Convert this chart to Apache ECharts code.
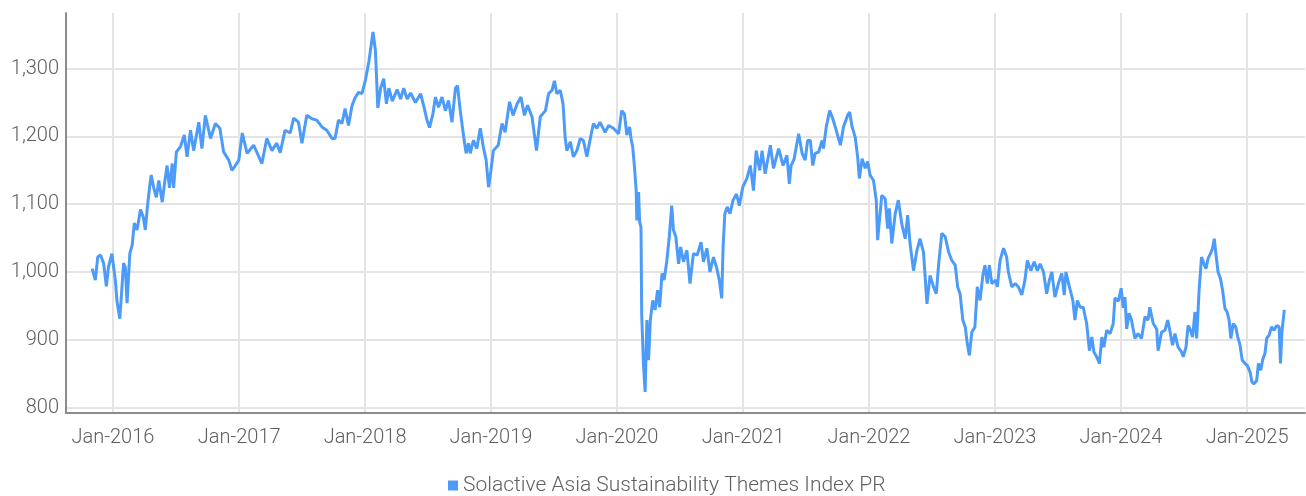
<!DOCTYPE html>
<html>
<head>
<meta charset="utf-8">
<script src="https://cdn.jsdelivr.net/npm/echarts@6/dist/echarts.min.js"></script>
<style>
  html, body { margin: 0; padding: 0; background: #fff; }
  #chart { width: 1306px; height: 496px; }
</style>
</head>
<body>
<div id="chart"></div>
<script>
// index levels, grouped by year
const y2015 = [
  ['2015-11-02', 1005], ['2015-11-11', 988], ['2015-11-18', 1022], ['2015-11-26', 1025],
  ['2015-12-05', 1013], ['2015-12-13', 979], ['2015-12-19', 1007], ['2015-12-29', 1027]
];
const y2016 = [
  ['2016-01-08', 988], ['2016-01-13', 956], ['2016-01-21', 931], ['2016-01-26', 968],
  ['2016-02-01', 1013], ['2016-02-06', 1007], ['2016-02-11', 954], ['2016-02-19', 1027],
  ['2016-02-26', 1040], ['2016-03-03', 1072], ['2016-03-11', 1062], ['2016-03-21', 1092],
  ['2016-03-29', 1081], ['2016-04-04', 1062], ['2016-04-09', 1091], ['2016-04-17', 1128],
  ['2016-04-21', 1143], ['2016-04-28', 1125], ['2016-05-06', 1110], ['2016-05-13', 1135],
  ['2016-05-23', 1103], ['2016-05-29', 1128], ['2016-06-06', 1157], ['2016-06-13', 1124],
  ['2016-06-21', 1160], ['2016-06-25', 1124], ['2016-07-03', 1177], ['2016-07-15', 1185],
  ['2016-07-26', 1202], ['2016-08-03', 1170], ['2016-08-13', 1209], ['2016-08-22', 1179],
  ['2016-09-06', 1221], ['2016-09-15', 1182], ['2016-09-25', 1231], ['2016-10-10', 1197],
  ['2016-10-24', 1219], ['2016-11-06', 1212], ['2016-11-17', 1177], ['2016-12-02', 1165],
  ['2016-12-11', 1150], ['2016-12-21', 1157], ['2016-12-31', 1165]
];
const y2017 = [
  ['2017-01-10', 1205], ['2017-01-24', 1175], ['2017-02-12', 1187], ['2017-03-08', 1160],
  ['2017-03-22', 1197], ['2017-04-06', 1179], ['2017-04-20', 1190], ['2017-04-30', 1176],
  ['2017-05-14', 1209], ['2017-05-29', 1205], ['2017-06-08', 1227], ['2017-06-22', 1221],
  ['2017-07-02', 1190], ['2017-07-16', 1231], ['2017-07-31', 1226], ['2017-08-14', 1224],
  ['2017-08-29', 1214], ['2017-09-12', 1209], ['2017-09-27', 1197], ['2017-10-06', 1197],
  ['2017-10-16', 1224], ['2017-10-26', 1219], ['2017-11-04', 1241], ['2017-11-14', 1216],
  ['2017-11-24', 1245], ['2017-12-03', 1257], ['2017-12-13', 1265], ['2017-12-23', 1263]
];
const y2018 = [
  ['2018-01-02', 1283], ['2018-01-12', 1310], ['2018-01-24', 1354], ['2018-01-31', 1327],
  ['2018-02-07', 1242], ['2018-02-15', 1271], ['2018-02-24', 1285], ['2018-03-04', 1248],
  ['2018-03-11', 1271], ['2018-03-21', 1252], ['2018-04-04', 1269], ['2018-04-14', 1255],
  ['2018-04-23', 1271], ['2018-05-03', 1255], ['2018-05-13', 1264], ['2018-05-27', 1250],
  ['2018-06-11', 1263], ['2018-06-20', 1245], ['2018-06-30', 1223], ['2018-07-07', 1213],
  ['2018-07-17', 1234], ['2018-07-24', 1258], ['2018-08-02', 1243], ['2018-08-12', 1258],
  ['2018-08-22', 1238], ['2018-08-31', 1253], ['2018-09-10', 1221], ['2018-09-20', 1271],
  ['2018-09-26', 1275], ['2018-10-04', 1238], ['2018-10-14', 1199], ['2018-10-21', 1175],
  ['2018-10-28', 1190], ['2018-11-02', 1175], ['2018-11-11', 1194], ['2018-11-21', 1182],
  ['2018-12-01', 1212], ['2018-12-10', 1184], ['2018-12-18', 1165], ['2018-12-25', 1125]
];
const y2019 = [
  ['2019-01-01', 1150], ['2019-01-08', 1179], ['2019-01-22', 1187], ['2019-02-02', 1219],
  ['2019-02-11', 1206], ['2019-02-24', 1251], ['2019-03-06', 1231], ['2019-03-18', 1248],
  ['2019-03-29', 1258], ['2019-04-08', 1231], ['2019-04-17', 1246], ['2019-04-30', 1229],
  ['2019-05-13', 1179], ['2019-05-24', 1229], ['2019-06-08', 1238], ['2019-06-17', 1263],
  ['2019-06-27', 1268], ['2019-07-04', 1282], ['2019-07-11', 1263], ['2019-07-21', 1268],
  ['2019-07-29', 1248], ['2019-08-04', 1199], ['2019-08-09', 1179], ['2019-08-19', 1192],
  ['2019-08-28', 1170], ['2019-09-07', 1179], ['2019-09-17', 1197], ['2019-09-26', 1194],
  ['2019-10-06', 1170], ['2019-10-15', 1194], ['2019-10-25', 1219], ['2019-11-04', 1212],
  ['2019-11-13', 1221], ['2019-11-28', 1206], ['2019-12-08', 1216], ['2019-12-22', 1212]
];
const y2020 = [
  ['2020-01-06', 1204], ['2020-01-15', 1238], ['2020-01-23', 1233], ['2020-01-30', 1202],
  ['2020-02-07', 1214], ['2020-02-11', 1197], ['2020-02-16', 1184], ['2020-02-21', 1155],
  ['2020-02-26', 1120], ['2020-02-28', 1076], ['2020-03-04', 1118], ['2020-03-07', 1074],
  ['2020-03-11', 1066], ['2020-03-13', 938], ['2020-03-18', 865], ['2020-03-23', 823],
  ['2020-03-28', 929], ['2020-04-02', 870], ['2020-04-07', 929], ['2020-04-14', 958],
  ['2020-04-21', 944], ['2020-04-28', 973], ['2020-05-04', 948], ['2020-05-11', 998],
  ['2020-05-17', 988], ['2020-05-25', 1017], ['2020-06-01', 1052], ['2020-06-08', 1098],
  ['2020-06-13', 1062], ['2020-06-20', 1052], ['2020-06-28', 1012], ['2020-07-04', 1037],
  ['2020-07-12', 1015], ['2020-07-22', 1032], ['2020-07-31', 983], ['2020-08-10', 1027],
  ['2020-08-21', 1025], ['2020-09-01', 1044], ['2020-09-08', 1015], ['2020-09-18', 1035],
  ['2020-09-27', 1000], ['2020-10-07', 1022], ['2020-10-16', 1007], ['2020-10-24', 988],
  ['2020-10-31', 961], ['2020-11-04', 1037], ['2020-11-09', 1086], ['2020-11-16', 1096],
  ['2020-11-24', 1086], ['2020-12-03', 1106], ['2020-12-13', 1115], ['2020-12-21', 1098],
  ['2020-12-31', 1125]
];
const y2021 = [
  ['2021-01-12', 1138], ['2021-01-22', 1157], ['2021-01-31', 1120], ['2021-02-08', 1179],
  ['2021-02-18', 1150], ['2021-02-25', 1179], ['2021-03-06', 1145], ['2021-03-21', 1187],
  ['2021-03-30', 1153], ['2021-04-14', 1182], ['2021-04-27', 1157], ['2021-05-08', 1172],
  ['2021-05-15', 1130], ['2021-05-20', 1157], ['2021-05-29', 1167], ['2021-06-11', 1204],
  ['2021-06-21', 1175], ['2021-06-30', 1165], ['2021-07-07', 1194], ['2021-07-15', 1194],
  ['2021-07-22', 1157], ['2021-07-29', 1175], ['2021-08-08', 1177], ['2021-08-18', 1194],
  ['2021-08-22', 1182], ['2021-08-30', 1214], ['2021-09-09', 1238], ['2021-09-18', 1226],
  ['2021-09-28', 1209], ['2021-10-10', 1187], ['2021-10-19', 1214], ['2021-10-31', 1231],
  ['2021-11-06', 1236], ['2021-11-13', 1214], ['2021-11-22', 1199], ['2021-11-29', 1170],
  ['2021-12-04', 1138], ['2021-12-12', 1167], ['2021-12-21', 1153], ['2021-12-28', 1163]
];
const y2022 = [
  ['2022-01-04', 1143], ['2022-01-14', 1135], ['2022-01-22', 1106], ['2022-01-26', 1047],
  ['2022-02-07', 1113], ['2022-02-17', 1108], ['2022-02-24', 1064], ['2022-03-01', 1094],
  ['2022-03-08', 1042], ['2022-03-18', 1086], ['2022-03-27', 1106], ['2022-04-06', 1071],
  ['2022-04-16', 1049], ['2022-04-23', 1084], ['2022-04-30', 1042], ['2022-05-10', 1002],
  ['2022-05-20', 1032], ['2022-05-29', 1049], ['2022-06-08', 1029], ['2022-06-18', 953],
  ['2022-06-27', 995], ['2022-07-07', 978], ['2022-07-15', 968], ['2022-07-22', 1012],
  ['2022-07-31', 1057], ['2022-08-10', 1052], ['2022-08-20', 1029], ['2022-08-29', 1017],
  ['2022-09-08', 1010], ['2022-09-15', 978], ['2022-09-22', 968], ['2022-09-30', 929],
  ['2022-10-07', 919], ['2022-10-13', 894], ['2022-10-19', 877], ['2022-10-26', 911],
  ['2022-11-04', 919], ['2022-11-11', 978], ['2022-11-19', 958], ['2022-11-27', 995],
  ['2022-12-03', 1010], ['2022-12-10', 983], ['2022-12-16', 1010], ['2022-12-23', 983]
];
const y2023 = [
  ['2023-01-03', 988], ['2023-01-08', 978], ['2023-01-16', 1017], ['2023-01-26', 1035],
  ['2023-02-04', 1022], ['2023-02-09', 1000], ['2023-02-19', 978], ['2023-03-01', 983],
  ['2023-03-10', 978], ['2023-03-20', 966], ['2023-03-29', 988], ['2023-04-05', 1017],
  ['2023-04-15', 1002], ['2023-04-25', 1015], ['2023-05-04', 1002], ['2023-05-12', 1012],
  ['2023-05-22', 1000], ['2023-05-31', 968], ['2023-06-08', 988], ['2023-06-15', 1000],
  ['2023-06-24', 963], ['2023-07-04', 983], ['2023-07-14', 998], ['2023-07-21', 966],
  ['2023-07-26', 1000], ['2023-08-05', 978], ['2023-08-15', 958], ['2023-08-21', 929],
  ['2023-08-28', 958], ['2023-09-05', 948], ['2023-09-14', 948], ['2023-09-24', 924],
  ['2023-10-02', 884], ['2023-10-09', 904], ['2023-10-15', 882], ['2023-10-23', 875],
  ['2023-10-31', 865], ['2023-11-07', 904], ['2023-11-13', 889], ['2023-11-21', 914],
  ['2023-12-01', 909], ['2023-12-10', 924], ['2023-12-15', 962], ['2023-12-25', 957]
];
const y2024 = [
  ['2024-01-02', 976], ['2024-01-08', 947], ['2024-01-13', 963], ['2024-01-18', 916],
  ['2024-01-25', 939], ['2024-02-01', 929], ['2024-02-11', 902], ['2024-02-20', 909],
  ['2024-03-01', 902], ['2024-03-11', 934], ['2024-03-20', 929], ['2024-03-25', 948],
  ['2024-04-04', 924], ['2024-04-14', 916], ['2024-04-18', 884], ['2024-04-28', 911],
  ['2024-05-08', 914], ['2024-05-16', 929], ['2024-05-22', 914], ['2024-05-30', 892],
  ['2024-06-06', 909], ['2024-06-15', 889], ['2024-06-25', 882], ['2024-06-30', 875],
  ['2024-07-08', 889], ['2024-07-14', 921], ['2024-07-21', 914], ['2024-07-27', 904],
  ['2024-08-03', 941], ['2024-08-08', 902], ['2024-08-15', 973], ['2024-08-22', 1022],
  ['2024-08-29', 1012], ['2024-09-04', 1005], ['2024-09-10', 1020], ['2024-09-17', 1027],
  ['2024-09-23', 1035], ['2024-09-28', 1049], ['2024-10-03', 1025], ['2024-10-09', 1000],
  ['2024-10-16', 990], ['2024-10-22', 973], ['2024-10-29', 946], ['2024-11-04', 941],
  ['2024-11-10', 929], ['2024-11-15', 902], ['2024-11-22', 924], ['2024-11-29', 919],
  ['2024-12-05', 904], ['2024-12-11', 894], ['2024-12-18', 870], ['2024-12-26', 865]
];
const y2025 = [
  ['2025-01-02', 862], ['2025-01-10', 852], ['2025-01-15', 838], ['2025-01-21', 835],
  ['2025-01-29', 840], ['2025-02-03', 865], ['2025-02-10', 855], ['2025-02-15', 870],
  ['2025-02-22', 880], ['2025-02-27', 902], ['2025-03-06', 907], ['2025-03-13', 919],
  ['2025-03-20', 914], ['2025-03-28', 921], ['2025-04-04', 919], ['2025-04-08', 865],
  ['2025-04-12', 911], ['2025-04-19', 944]
];

const yTicks = [800, 900, 1000, 1100, 1200, 1300];
const xTickYears = [2016, 2017, 2018, 2019, 2020, 2021, 2022, 2023, 2024, 2025];
const seriesName = 'Solactive Asia Sustainability Themes Index PR';

// value axis over timestamps so custom ticks (one per January) work
const seriesData = [].concat(y2015, y2016, y2017, y2018, y2019, y2020, y2021, y2022, y2023, y2024, y2025)
  .map(d => [Date.parse(d[0]), d[1]]);
const xTicks = xTickYears.map(y => Date.parse(y + '-01-01'));
const lineColor = '#4d9bf8';
const textColor = '#606060';
const font = 'Roboto';

const chart = echarts.init(document.getElementById('chart'), null, { renderer: 'canvas' });
chart.setOption({
  animation: false,
  grid: { left: 66, right: 1, top: 13, bottom: 83, containLabel: false },
  legend: {
    data: [seriesName],
    left: 443,
    top: 470,
    icon: 'rect',
    itemWidth: 10,
    itemHeight: 10,
    textStyle: { color: textColor, fontFamily: font, fontWeight: 300, fontSize: 21 },
  },
  xAxis: {
    type: 'value',
    min: Date.parse('2015-08-18'),
    max: Date.parse('2025-06-18'),
    axisLine: { show: true, lineStyle: { color: '#8c8c8c', width: 2 } },
    axisTick: { show: false, customValues: xTicks },
    axisLabel: {
      customValues: xTicks,
      color: textColor,
      fontFamily: font,
      fontWeight: 300,
      fontSize: 20,
      margin: 15,
      formatter: val => 'Jan-' + new Date(val).getUTCFullYear(),
    },
    splitLine: { show: true, lineStyle: { color: '#e4e4e4', width: 2 } },
  },
  yAxis: {
    type: 'value',
    min: 792,
    max: 1382,
    axisLine: { show: true, lineStyle: { color: '#8c8c8c', width: 2 } },
    axisTick: { show: false, customValues: yTicks },
    axisLabel: {
      customValues: yTicks,
      color: textColor,
      fontFamily: font,
      fontWeight: 300,
      fontSize: 20,
      margin: 7,
      padding: [5, 0, 0, 0],
      formatter: val => val.toLocaleString('en-US'),
    },
    splitLine: { show: true, lineStyle: { color: '#e4e4e4', width: 2 } },
  },
  series: [
    {
      name: seriesName,
      type: 'line',
      data: seriesData,
      showSymbol: false,
      symbol: 'none',
      itemStyle: { color: lineColor },
      lineStyle: { color: lineColor, width: 3 },
    }
  ]
});
</script>
</body>
</html>
